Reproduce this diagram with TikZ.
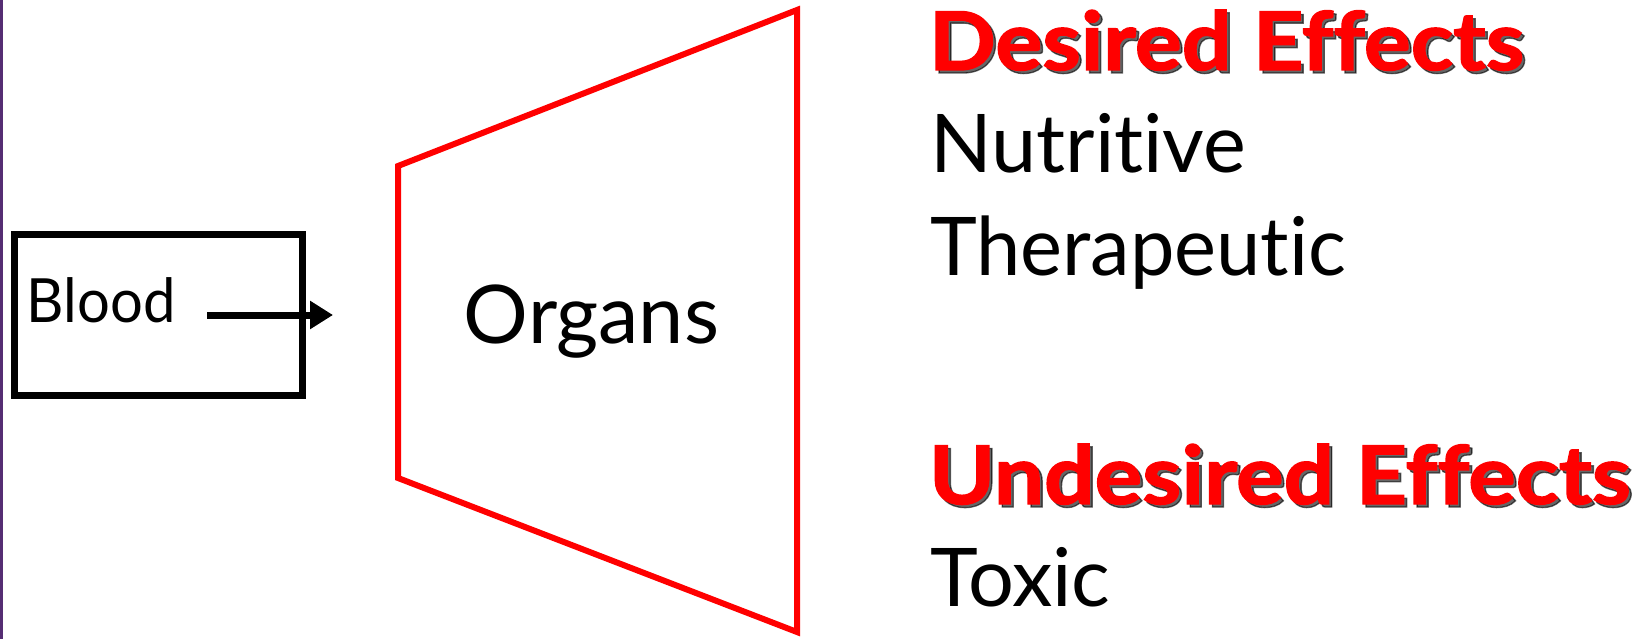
\documentclass[tikz,border=0pt]{standalone}
\usepackage{fontspec}
\setmainfont{Lato}[Ligatures=NoCommon]
\newfontfamily\headfont{Lato}[Ligatures=NoCommon,BoldFeatures={FakeBold=1.6}]
\usetikzlibrary{arrows.meta}
\tikzset{
  px/.style={x=1pt,y=-1pt},
  plain/.style={inner sep=0pt,outer sep=0pt,anchor=base west,font=\fontsize{81}{81}\selectfont},
  head/.style={inner sep=0pt,outer sep=0pt,anchor=base west,text=red,font=\fontsize{81}{81}\selectfont\headfont\bfseries},
  headshadow/.style={head,text=black,opacity=0.6},
  boxline/.style={draw=black,line width=7pt},
  organline/.style={draw=red,line width=6pt,line join=miter},
  flow/.style={line width=7pt,-{Triangle[length=23pt,width=27pt]}},
}
\begin{document}
\begin{tikzpicture}[px]
\useasboundingbox (0,0) rectangle (1649,639);
\fill[white] (0,0) rectangle (1649,639);
\fill[fill={rgb,255:red,85;green,45;blue,115}] (0,0) rectangle (2.5,639);
% Blood box
\draw[boxline] (14,235) rectangle (302,395);
\node[plain,font=\fontsize{61}{61}\selectfont] (blood) at (27,322) {\scalebox{0.95}[1]{Blood}};
\coordinate (arrowstart) at (207,315);
\coordinate (arrowend) at (333,315);
\draw[flow] (arrowstart) -- (arrowend);
% Organs trapezoid
\draw[organline] (398,166) -- (797,10) -- (797,632) -- (398,478) -- cycle;
\node[plain,anchor=base] (organs) at (591.5,343) {Organs};
% Effects
\node[headshadow] at (932,73) {\scalebox{1.085}[1]{Desired Effects}};
\node[head] (desired) at (929,70) {\scalebox{1.085}[1]{Desired Effects}};
\node[plain] (nutritive) at (930,173) {Nutritive};
\node[plain] (therapeutic) at (930,275) {\scalebox{0.98}[1]{Therapeutic}};
\node[headshadow] at (932,507) {\scalebox{1.1}[1]{Undesired Effects}};
\node[head] (undesired) at (929,504) {\scalebox{1.1}[1]{Undesired Effects}};
\node[plain] (toxic) at (930,606) {Toxic};
\end{tikzpicture}
\end{document}
